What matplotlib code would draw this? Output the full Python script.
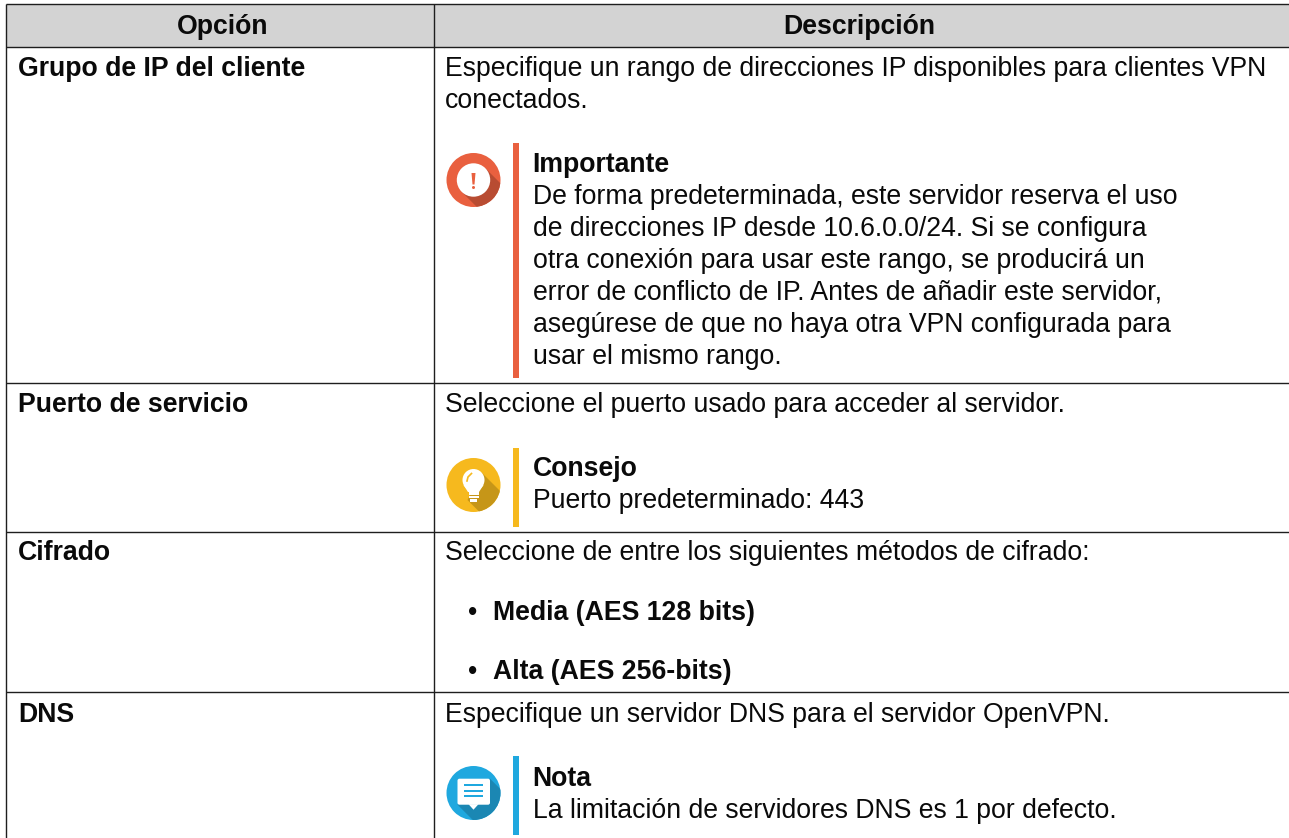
import matplotlib
matplotlib.use("Agg")
import matplotlib.pyplot as plt
from matplotlib.patches import Rectangle, Circle, Polygon, FancyBboxPatch

plt.rcParams['font.family'] = ['Liberation Sans', 'DejaVu Sans']

headers = ["Opción", "Descripción"]
options = ["Grupo de IP del cliente", "Puerto de servicio", "Cifrado", "DNS"]
option_y = [75.5, 411.5, 559.5, 721.5]
body_lines = [
    ("Especifique un rango de direcciones IP disponibles para clientes VPN", 75.5, 445),
    ("conectados.", 107.5, 445),
    ("De forma predeterminada, este servidor reserva el uso", 203.5, 533),
    ("de direcciones IP desde 10.6.0.0/24. Si se configura", 235.5, 533),
    ("otra conexión para usar este rango, se producirá un", 267.5, 533),
    ("error de conflicto de IP. Antes de añadir este servidor,", 299.5, 533),
    ("asegúrese de que no haya otra VPN configurada para", 331.5, 533),
    ("usar el mismo rango.", 363.5, 533),
    ("Seleccione el puerto usado para acceder al servidor.", 411.5, 445),
    ("Puerto predeterminado: 443", 507.5, 533),
    ("Seleccione de entre los siguientes métodos de cifrado:", 559.5, 445),
    ("•", 619.5, 468),
    ("•", 678.5, 468),
    ("Especifique un servidor DNS para el servidor OpenVPN.", 721.5, 445),
    ("La limitación de servidores DNS es 1 por defecto.", 817.5, 533),
]
bold_lines = [
    ("Importante", 171.5, 532.5),
    ("Consejo", 475.5, 533),
    ("Media (AES 128 bits)", 619.5, 493),
    ("Alta (AES 256-bits)", 678.5, 493),
    ("Nota", 785.5, 532.5),
]
row_lines = [4.5, 47, 383, 531.5, 692]
note_kinds = ["important", "tip", "note"]
note_colors = ["#E9603F", "#F6B91E", "#1FA8DF"]
note_shadows = ["#B84C32", "#C69618", "#1B87B3"]
note_bar_top = [143, 448, 756]
note_bar_bottom = [378, 527, 835]
note_icon_y = [180, 485, 793]

FS = 19.2
INK = "#0A0A0A"
LINE = "#1E1E1E"
W, H = 1289, 838
fig = plt.figure(figsize=(W/100, H/100), dpi=100, facecolor="white")
ax = fig.add_axes([0, 0, 1, 1])
ax.set_xlim(0, W); ax.set_ylim(H, 0); ax.axis("off")

ax.add_patch(Rectangle((6, 4.5), W - 6, 42.5, fc="#D3D3D3", ec="none"))
for x in (6, 434):
    ax.plot([x, x], [4, H], color=LINE, lw=1.0, solid_capstyle="butt")
for y in row_lines:
    ax.plot([5.5, W], [y, y], color=LINE, lw=1.0, solid_capstyle="butt")

ax.text(223, 33.5, headers[0], fontsize=FS, fontweight="bold", ha="center", va="baseline", color=INK)
ax.text(859, 33.5, headers[1], fontsize=FS, fontweight="bold", ha="center", va="baseline", color=INK)
for t, y in zip(options, option_y):
    ax.text(18, y, t, fontsize=FS, fontweight="bold", va="baseline", color=INK)
for t, y, x in body_lines:
    ax.text(x, y, t, fontsize=FS, va="baseline", color=INK)
for t, y, x in bold_lines:
    ax.text(x, y, t, fontsize=FS, fontweight="bold", va="baseline", color=INK)

CX, R = 473.5, 27


def shadow(c, p1, p2, color):
    d = 60
    s = Polygon([p1, (p1[0] + d, p1[1] + d), (p2[0] + d, p2[1] + d), p2], fc=color, ec="none", zorder=2)
    ax.add_patch(s)
    s.set_clip_path(c)


for kind, col, dark, y0, y1, cy in zip(note_kinds, note_colors, note_shadows,
                                       note_bar_top, note_bar_bottom, note_icon_y):
    ax.add_patch(Rectangle((513, y0), 6, y1 - y0, fc=col, ec="none"))
    c = Circle((CX, cy), R, fc=col, ec="none", zorder=1)
    ax.add_patch(c)
    if kind == "important":
        r = 16.7
        shadow(c, (CX + r * .707, cy - r * .707), (CX - r * .707, cy + r * .707), dark)
        ax.add_patch(Circle((CX, cy), r, fc="white", ec="none", zorder=3))
        ax.add_patch(Polygon([(CX - 2, cy - 7), (CX + 2, cy - 7), (CX + 1, cy + 4.5), (CX - 1, cy + 4.5)],
                             fc=col, ec="none", zorder=4))
        ax.add_patch(Circle((CX, cy + 7.5), 1.5, fc=col, ec="none", zorder=4))
    elif kind == "tip":
        by, r = cy - 5, 11
        shadow(c, (CX + r * .707, by - r * .707), (CX - 6, cy + 15), dark)
        ax.add_patch(Circle((CX, by), r, fc="white", ec="none", zorder=3))
        ax.add_patch(Polygon([(CX - 10, by + 5), (CX + 10, by + 5), (CX + 5.5, cy + 7), (CX - 5.5, cy + 7)],
                             fc="white", ec="none", zorder=3))
        for dy, hw in ((8.5, 5), (12, 5), (15.5, 3.5)):
            ax.add_patch(Rectangle((CX - hw, cy + dy - 1.1), 2 * hw, 2.2, fc="white", ec="none", zorder=3))
        ax.plot([CX - 6.5, CX - 5.5, CX - 2], [by + 1, by - 3, by - 6.5], color=col, lw=1.2, zorder=4)
    else:
        x0, x1, y_top, y_bot = CX - 16, CX + 16.5, cy - 14.3, cy + 11.7
        shadow(c, (x1, y_top), (x0, y_bot), dark)
        ax.add_patch(FancyBboxPatch((x0 + 2, y_top + 2), x1 - x0 - 4, y_bot - y_top - 4,
                                    boxstyle="round,pad=2,rounding_size=2", fc="white", ec="none", zorder=3))
        ax.add_patch(Polygon([(CX - 5, y_bot - .5), (CX + 5, y_bot - .5), (CX, y_bot + 5)], fc="white", ec="none", zorder=3))
        for dy in (-7.7, -2.3, 3.3):
            ax.add_patch(Rectangle((CX - 9.5, cy + dy - 1.1), 19, 2.2, fc=col, ec="none", zorder=4))

fig.savefig("out.png", dpi=100)
